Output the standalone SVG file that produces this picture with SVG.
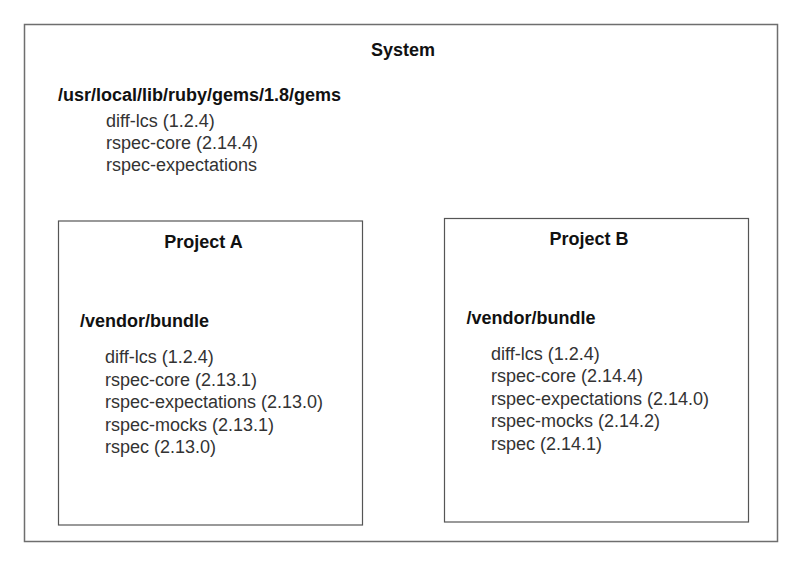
<svg xmlns="http://www.w3.org/2000/svg" width="800" height="561" viewBox="0 0 800 561">
<style>
.box{fill:none;stroke:#6e6e6e;stroke-width:1.5}
.inner{fill:none;stroke:#555;stroke-width:1.2}
.h{font-family:"Liberation Sans",Arial,sans-serif;font-size:18px;font-weight:bold;fill:#111}
.t{font-family:"Liberation Sans",Arial,sans-serif;font-size:18px;fill:#333}
</style>
<rect width="800" height="561" fill="#fff"/>
<g id="system">
<rect class="box" x="24.5" y="24.5" width="753" height="517"/>
<text class="h" x="403" y="56" text-anchor="middle">System</text>
<text class="h" x="58" y="101">/usr/local/lib/ruby/gems/1.8/gems</text>
<text class="t" x="106" y="127">diff-lcs (1.2.4)</text>
<text class="t" x="106" y="149">rspec-core (2.14.4)</text>
<text class="t" x="106" y="171">rspec-expectations</text>
</g>
<g id="projectA">
<rect class="inner" x="58.5" y="221" width="304" height="304"/>
<text class="h" x="203.5" y="248" text-anchor="middle">Project A</text>
<text class="h" x="80" y="327">/vendor/bundle</text>
<text class="t" x="105" y="363">diff-lcs (1.2.4)</text>
<text class="t" x="105" y="386">rspec-core (2.13.1)</text>
<text class="t" x="105" y="408">rspec-expectations (2.13.0)</text>
<text class="t" x="105" y="431">rspec-mocks (2.13.1)</text>
<text class="t" x="105" y="453">rspec (2.13.0)</text>
</g>
<g id="projectB">
<rect class="inner" x="444.5" y="218.5" width="304" height="303.5"/>
<text class="h" x="589" y="244.5" text-anchor="middle">Project B</text>
<text class="h" x="466.5" y="323.5">/vendor/bundle</text>
<text class="t" x="491" y="359.5">diff-lcs (1.2.4)</text>
<text class="t" x="491" y="382">rspec-core (2.14.4)</text>
<text class="t" x="491" y="404.5">rspec-expectations (2.14.0)</text>
<text class="t" x="491" y="427">rspec-mocks (2.14.2)</text>
<text class="t" x="491" y="449.5">rspec (2.14.1)</text>
</g>
<g id="connectors"/>
</svg>
